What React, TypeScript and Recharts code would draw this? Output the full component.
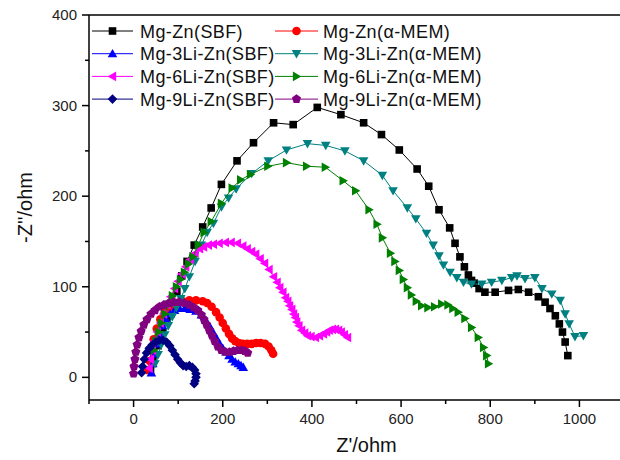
import React from "react";
import {
  Legend,
  ReferenceLine,
  Scatter,
  ScatterChart,
  XAxis,
  YAxis,
} from "recharts";

// Nyquist data (Z' , -Z'')
const MGZN_SBF_X = [38, 45, 55, 65, 75, 86, 97, 108, 120, 136, 155, 174, 197, 232, 269, 314, 358, 412, 465, 516, 556, 596, 636, 662, 685, 709, 721, 732, 742, 751, 758, 764, 775, 788, 811, 841, 863, 886, 908, 923, 934, 946, 955, 962, 968, 974];
const MGZN_SBF_Y = [8, 20, 35, 50, 63, 78, 95, 112, 128, 146, 166, 187, 213, 239, 259, 281, 279, 298, 290, 281, 268, 251, 230, 211, 185, 165, 148, 133, 122, 113, 107, 104, 98, 94, 94, 96, 97, 94, 89, 83, 76, 68, 59, 50, 39, 24];

const MGZN_MEM_X = [33, 36, 40, 45, 52, 60, 70, 82, 95, 110, 125, 140, 155, 165, 175, 185, 193, 200, 207, 214, 221, 228, 236, 245, 255, 265, 275, 285, 295, 303, 309, 313];
const MGZN_MEM_Y = [8, 18, 30, 42, 54, 64, 72, 78, 82, 84, 85, 85, 84, 82, 78, 72, 66, 60, 54, 48, 43, 40, 38, 37, 37, 37, 38, 38, 37, 34, 30, 26];

const LI3_SBF_X = [40, 43, 47, 52, 58, 65, 73, 82, 92, 103, 115, 127, 140, 152, 162, 171, 179, 186, 193, 200, 207, 214, 221, 228, 235, 241, 246];
const LI3_SBF_Y = [5, 15, 26, 37, 48, 57, 64, 70, 74, 76, 76, 75, 73, 69, 63, 56, 49, 43, 37, 32, 28, 24, 20, 17, 15, 13, 11];

const LI3_MEM_X = [48, 55, 62, 70, 78, 87, 96, 106, 115, 125, 138, 152, 165, 179, 197, 213, 230, 265, 302, 343, 390, 431, 474, 516, 558, 582, 614, 633, 657, 672, 685, 695, 710, 725, 740, 758, 781, 803, 826, 848, 860, 878, 900, 916, 938, 957, 968, 977, 990, 1009];
const LI3_MEM_Y = [15, 25, 36, 47, 57, 67, 77, 87, 98, 111, 128, 146, 160, 170, 188, 198, 208, 225, 239, 251, 258, 256, 250, 239, 223, 206, 187, 175, 159, 146, 134, 124, 116, 110, 105, 103, 103, 105, 107, 110, 112, 109, 110, 98, 92, 85, 70, 59, 45, 46];

const LI6_SBF_X = [35, 38, 42, 47, 53, 60, 67, 75, 83, 92, 100, 108, 117, 127, 138, 148, 157, 168, 179, 192, 206, 219, 233, 245, 255, 265, 274, 284, 294, 304, 314, 322, 328, 335, 341, 346, 350, 355, 359, 363, 366, 371, 377, 384, 390, 398, 408, 417, 426, 433, 439, 446, 453, 460, 466, 473, 480];
const LI6_SBF_Y = [10, 20, 30, 40, 50, 60, 70, 80, 89, 98, 106, 114, 122, 130, 137, 142, 144, 146, 147, 148, 149, 149, 148, 145, 142, 139, 136, 131, 126, 119, 111, 105, 99, 94, 88, 84, 79, 75, 70, 66, 61, 57, 52, 49, 46, 45, 44, 46, 48, 50, 52, 53, 53, 52, 50, 47, 44];

const LI6_MEM_X = [45, 50, 56, 62, 70, 78, 87, 96, 105, 114, 123, 133, 145, 158, 174, 197, 221, 240, 262, 301, 343, 388, 430, 470, 498, 528, 546, 558, 576, 586, 596, 605, 614, 623, 634, 646, 660, 675, 691, 705, 716, 728, 743, 758, 773, 785, 792, 796];
const LI6_MEM_Y = [30, 40, 50, 60, 70, 80, 90, 100, 108, 116, 125, 133, 146, 160, 172, 192, 209, 218, 224, 233, 237, 233, 232, 217, 206, 185, 169, 154, 137, 128, 118, 108, 99, 91, 84, 79, 77, 78, 81, 80, 76, 72, 65, 55, 44, 33, 24, 15];

const LI9_SBF_X = [18, 20, 24, 29, 35, 42, 50, 58, 66, 74, 81, 87, 93, 99, 105, 111, 118, 125, 132, 137, 140, 140, 138, 136];
const LI9_SBF_Y = [5, 12, 20, 27, 32, 36, 39, 41, 41, 39, 35, 30, 25, 20, 16, 13, 12, 13, 11, 8, 4, 0, -4, -7];

const LI9_MEM_X = [0, 1, 3, 5, 8, 12, 17, 23, 30, 39, 48, 58, 68, 79, 90, 102, 114, 125, 135, 144, 152, 158, 164, 170, 176, 182, 189, 197, 206, 215, 224, 233, 242, 250, 256];
const LI9_MEM_Y = [4, 12, 20, 28, 36, 44, 51, 58, 64, 70, 74, 78, 80, 82, 83, 83, 82, 80, 77, 74, 69, 64, 58, 52, 46, 40, 34, 30, 28, 28, 29, 30, 30, 29, 27];

const X_TICKS = [-100, 0, 100, 200, 300, 400, 500, 600, 700, 800, 900, 1000, 1100];
const Y_TICKS = [0, 50, 100, 150, 200, 250, 300, 350, 400];

const zip = (xs: number[], ys: number[]) => xs.map((x, i) => ({ x, y: ys[i] }));

type Shape = "square" | "circle" | "up" | "down" | "left" | "right" | "diamond" | "pentagon";

const SERIES: { name: string; color: string; shape: Shape; data: { x: number; y: number }[] }[] = [
  { name: "Mg-Zn(SBF)", color: "#000000", shape: "square", data: zip(MGZN_SBF_X, MGZN_SBF_Y) },
  { name: "Mg-Zn(\u03b1-MEM)", color: "#ff0000", shape: "circle", data: zip(MGZN_MEM_X, MGZN_MEM_Y) },
  { name: "Mg-3Li-Zn(SBF)", color: "#0000ff", shape: "up", data: zip(LI3_SBF_X, LI3_SBF_Y) },
  { name: "Mg-3Li-Zn(\u03b1-MEM)", color: "#008080", shape: "down", data: zip(LI3_MEM_X, LI3_MEM_Y) },
  { name: "Mg-6Li-Zn(SBF)", color: "#ff00ff", shape: "left", data: zip(LI6_SBF_X, LI6_SBF_Y) },
  { name: "Mg-6Li-Zn(\u03b1-MEM)", color: "#008000", shape: "right", data: zip(LI6_MEM_X, LI6_MEM_Y) },
  { name: "Mg-9Li-Zn(SBF)", color: "#000080", shape: "diamond", data: zip(LI9_SBF_X, LI9_SBF_Y) },
  { name: "Mg-9Li-Zn(\u03b1-MEM)", color: "#800080", shape: "pentagon", data: zip(LI9_MEM_X, LI9_MEM_Y) },
];

const FONT = "Arial, 'Liberation Sans', sans-serif";

function Marker({ shape, cx, cy, color }: { shape: Shape; cx: number; cy: number; color: string }) {
  const r = 4.8;
  const pts = (arr: number[][]) => arr.map((p) => `${cx + p[0]},${cy + p[1]}`).join(" ");
  switch (shape) {
    case "square":
      return <rect x={cx - 3.8} y={cy - 3.8} width={7.6} height={7.6} fill={color} />;
    case "circle":
      return <circle cx={cx} cy={cy} r={4.3} fill={color} />;
    case "up":
      return <polygon points={pts([[0, -r], [r, r * 0.75], [-r, r * 0.75]])} fill={color} />;
    case "down":
      return <polygon points={pts([[0, r], [r, -r * 0.75], [-r, -r * 0.75]])} fill={color} />;
    case "left":
      return <polygon points={pts([[-r, 0], [r * 0.75, -r], [r * 0.75, r]])} fill={color} />;
    case "right":
      return <polygon points={pts([[r, 0], [-r * 0.75, -r], [-r * 0.75, r]])} fill={color} />;
    case "diamond":
      return <polygon points={pts([[0, -r], [r, 0], [0, r], [-r, 0]])} fill={color} />;
    case "pentagon": {
      const p = [0, 1, 2, 3, 4].map((k) => {
        const a = -Math.PI / 2 + (k * 2 * Math.PI) / 5;
        return [r * Math.cos(a), r * Math.sin(a)];
      });
      return <polygon points={pts(p)} fill={color} />;
    }
  }
  return null;
}

function XTick({ x, y, payload }: any) {
  const v = payload.value;
  const major = v % 200 === 0;
  return (
    <g>
      <line x1={x} x2={x} y1={y} y2={y + (major ? 7 : 4)} stroke="#000" strokeWidth={1.5} />
      {major && v >= 0 && v <= 1000 && (
        <text x={x} y={y + 24} textAnchor="middle" fontSize={15} fontFamily={FONT} fill="#222">
          {v}
        </text>
      )}
    </g>
  );
}

function YTick({ x, y, payload }: any) {
  const v = payload.value;
  const major = v % 100 === 0;
  return (
    <g>
      <line x1={x} x2={x - (major ? 7 : 4)} y1={y} y2={y} stroke="#000" strokeWidth={1.5} />
      {major && (
        <text x={x - 12} y={y + 5} textAnchor="end" fontSize={15} fontFamily={FONT} fill="#222">
          {v}
        </text>
      )}
    </g>
  );
}

function LegendBox() {
  return (
    <svg width={620} height={115} style={{ display: "block" }}>
      {SERIES.map((s, i) => {
        const col = i % 2;
        const row = Math.floor(i / 2);
        const x0 = col ? 275 : 92;
        const x1 = col ? 318 : 133;
        const y = 31 + row * 22.7;
        return (
          <g key={s.name}>
            <line x1={x0} x2={x1} y1={y} y2={y} stroke={s.color} strokeWidth={1} />
            <Marker shape={s.shape} cx={(x0 + x1) / 2} cy={y} color={s.color} />
            <text
              x={col ? 323 : 140}
              y={y + 6.5}
              fontSize={18}
              letterSpacing={0.4}
              fontFamily={FONT}
              fill="#111"
            >
              {s.name}
            </text>
          </g>
        );
      })}
    </svg>
  );
}

export default function App() {
  return (
    <div style={{ position: "absolute", left: 0, top: 0, width: 620, height: 460, overflow: "hidden", background: "#fff" }}>
      <ScatterChart width={624} height={460} margin={{ top: 15, right: 0, bottom: 0, left: 0 }}>
        <XAxis
          type="number"
          dataKey="x"
          domain={[-100, 1100]}
          ticks={X_TICKS}
          interval={0}
          tick={<XTick />}
          tickLine={false}
          tickSize={0}
          tickMargin={0}
          height={60}
          axisLine={{ stroke: "#000", strokeWidth: 1.5 }}
          label={{ value: "Z'/ohm", position: "insideBottom", offset: 8, dx: 10, fontSize: 20, fontFamily: FONT, fill: "#111" }}
        />
        <YAxis
          type="number"
          dataKey="y"
          domain={[-25, 400]}
          ticks={Y_TICKS}
          interval={0}
          tick={<YTick />}
          tickLine={false}
          tickSize={0}
          tickMargin={0}
          width={89}
          axisLine={{ stroke: "#000", strokeWidth: 1.5 }}
          label={{
            value: "-Z''/ohm",
            angle: -90,
            position: "insideLeft",
            offset: 25,
            fontSize: 20,
            fontFamily: FONT,
            fill: "#111",
            style: { textAnchor: "middle" },
          }}
        />
        <ReferenceLine y={400} stroke="#000" strokeWidth={1.5} />
        {SERIES.map((s) => (
          <Scatter
            key={s.name}
            name={s.name}
            data={s.data}
            fill={s.color}
            line={{ stroke: s.color, strokeWidth: 1 }}
            lineType="joint"
            shape={(p: any) => <Marker shape={s.shape} cx={p.cx} cy={p.cy} color={s.color} />}
            isAnimationActive={false}
          />
        ))}
        <Legend
          layout="horizontal"
          verticalAlign="middle"
          align="center"
          wrapperStyle={{ left: 0, top: 0, width: 620, height: 115 }}
          content={() => <LegendBox />}
        />
      </ScatterChart>
    </div>
  );
}
